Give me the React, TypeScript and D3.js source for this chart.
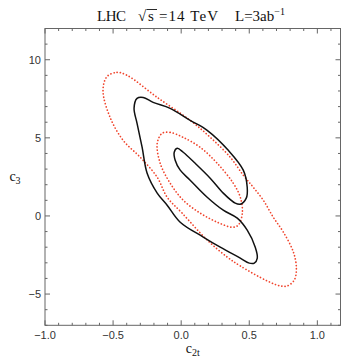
import React from "react";
import * as d3 from "d3";

// contour points, [c2t, c3]
const blackContour: [number, number][] = [
  [-0.324, 7.53], [-0.279, 7.59], [-0.206, 7.27], [-0.081, 6.89], [0.066, 6.12],
  [0.191, 5.48], [0.346, 4.2], [0.456, 2.93], [0.485, 1.84], [0.478, 1.14],
  [0.434, 0.75], [0.397, 0.82], [0.309, 1.46], [0.213, 2.42], [0.103, 3.37],
  [0.015, 4.08], [-0.029, 4.33], [-0.051, 4.08], [-0.044, 3.57], [-0.007, 2.93],
  [0.066, 2.29], [0.191, 1.2], [0.309, 0.37], [0.412, -0.14], [0.485, -0.91],
  [0.544, -2.0], [0.559, -2.7], [0.537, -3.02], [0.5, -3.02], [0.434, -2.7],
  [0.287, -2.0], [0.162, -1.35], [-0.007, -0.4], [-0.103, 0.69], [-0.176, 1.46],
  [-0.25, 2.73], [-0.287, 4.4], [-0.324, 5.93], [-0.346, 6.89],
];

const innerRed: [number, number][] = [
  [-0.14, 5.29], [-0.081, 5.35], [0.015, 5.03], [0.14, 4.39], [0.265, 3.37],
  [0.382, 2.1], [0.434, 1.2], [0.449, 0.18], [0.419, -0.59], [0.375, -0.72],
  [0.265, -0.4], [0.14, 0.18], [0.015, 1.01], [-0.081, 2.1], [-0.154, 3.37],
  [-0.176, 4.65],
];

const outerRed: [number, number][] = [
  [-0.544, 8.93], [-0.471, 9.19], [-0.397, 9.0], [-0.176, 7.59], [0.066, 6.12],
  [0.213, 5.04], [0.36, 3.76], [0.456, 2.61], [0.529, 1.84], [0.603, 1.01],
  [0.676, -0.08], [0.75, -1.03], [0.824, -2.31], [0.846, -3.33], [0.831, -4.1],
  [0.779, -4.48], [0.728, -4.48], [0.632, -4.16], [0.434, -3.2], [0.338, -2.63],
  [0.191, -1.54], [0.007, 0.18], [-0.103, 1.2], [-0.176, 2.48], [-0.301, 3.76],
  [-0.426, 4.84], [-0.522, 6.31], [-0.574, 8.04],
];

const xMajor = [-1, -0.5, 0, 0.5, 1];
const yMajor = [-5, 0, 5, 10];
const xMinor = d3.range(-10, 12).map((i) => i / 10);
const yMinor = d3.range(-7, 13);

const W = 341;
const H = 360;
const left = 45;
const right = 340.5;
const top = 28.5;
const bottom = 325.3;

export default function App() {
  const x = d3.scaleLinear().domain([-1, 1.17]).range([left, right]);
  const y = d3.scaleLinear().domain([-7, 12]).range([bottom, top]);

  const line = d3
    .line<[number, number]>()
    .x((d) => x(d[0]))
    .y((d) => y(d[1]))
    .curve(d3.curveCatmullRomClosed.alpha(0.5));

  const fmtX = (v: number) => (v < 0 ? "\u2212" : "") + Math.abs(v).toFixed(1);
  const fmtY = (v: number) => (v < 0 ? "\u2212" : "") + Math.abs(v);
  const frame = "#666";
  const red = "#f0442c";
  const serif = "Liberation Serif, serif";

  return (
    <svg width={W} height={H} style={{ position: "absolute", left: 0, top: 0, background: "#fff" }}>
      <defs>
        <clipPath id="plot">
          <rect x={left} y={top} width={right - left} height={bottom - top} />
        </clipPath>
      </defs>

      {/* title */}
      <g fontFamily={serif} fontSize={15} fill="#111">
        <text x={97} y={21} textLength={29}>LHC</text>
        <text x={138} y={21}>√</text>
        <text x={148} y={21}>s</text>
        <line x1={146.5} x2={157} y1={9.5} y2={9.5} stroke="#111" strokeWidth={0.9} />
        <text x={159} y={21} textLength={59}>=14 TeV</text>
        <text x={235} y={21}>
          L=3ab<tspan dy={-6} fontSize={10}>−1</tspan>
        </text>
      </g>

      {/* contours */}
      <g clipPath="url(#plot)" fill="none">
        <path d={line(outerRed) ?? ""} stroke={red} strokeWidth={1.7} strokeDasharray="0.1 3.2" strokeLinecap="round" />
        <path d={line(innerRed) ?? ""} stroke={red} strokeWidth={1.7} strokeDasharray="0.1 3.2" strokeLinecap="round" />
        <path d={line(blackContour) ?? ""} stroke="#111" strokeWidth={1.5} />
      </g>

      {/* frame */}
      <rect x={left} y={top} width={right - left} height={bottom - top} fill="none" stroke={frame} strokeWidth={1} />

      {/* ticks */}
      {xMinor.map((v) => {
        const major = xMajor.some((m) => Math.abs(m - v) < 1e-6);
        const len = major ? 5 : 2.5;
        return (
          <g key={"x" + v} stroke={frame} strokeWidth={1}>
            <line x1={x(v)} x2={x(v)} y1={bottom} y2={bottom - len} />
            <line x1={x(v)} x2={x(v)} y1={top} y2={top + len} />
          </g>
        );
      })}
      {yMinor.map((v) => {
        const major = yMajor.includes(v);
        const len = major ? 5 : 2.5;
        return (
          <g key={"y" + v} stroke={frame} strokeWidth={1}>
            <line x1={left} x2={left + len} y1={y(v)} y2={y(v)} />
            <line x1={right} x2={right - len} y1={y(v)} y2={y(v)} />
          </g>
        );
      })}

      {/* tick labels */}
      {xMajor.map((v) => (
        <text key={"xl" + v} x={x(v)} y={bottom + 14} textAnchor="middle" fontFamily="Liberation Sans, sans-serif" fontSize={11} fill="#333">
          {fmtX(v)}
        </text>
      ))}
      {yMajor.map((v) => (
        <text key={"yl" + v} x={left - 4} y={y(v) + 4} textAnchor="end" fontFamily="Liberation Sans, sans-serif" fontSize={11} fill="#333">
          {fmtY(v)}
        </text>
      ))}

      {/* axis labels, centred on the frame like Mathematica's FrameLabel */}
      <text x={(left + right) / 2} y={353} textAnchor="middle" fontFamily={serif} fontSize={14} fill="#111">
        c<tspan dy={3} fontSize={10}>2t</tspan>
      </text>
      <text x={15} y={(top + bottom) / 2 + 4} textAnchor="middle" fontFamily={serif} fontSize={14} fill="#111">
        c<tspan dy={3} fontSize={10}>3</tspan>
      </text>
    </svg>
  );
}
